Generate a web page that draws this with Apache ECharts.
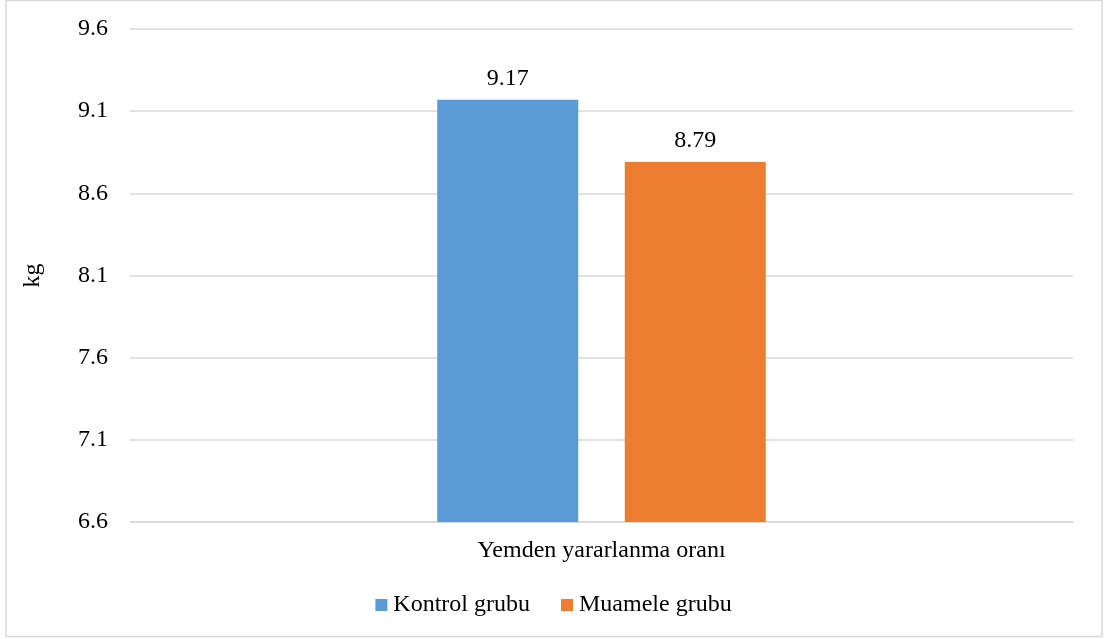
<!DOCTYPE html>
<html>
<head>
<meta charset="utf-8">
<script src="https://cdn.jsdelivr.net/npm/echarts@6/dist/echarts.min.js"></script>
<style>
  html, body { margin: 0; padding: 0; background: #fff; }
  #chart { width: 1107px; height: 639px; }
</style>
</head>
<body>
<div id="chart"></div>
<script>
// Feed conversion ratio, control vs. treatment group
const categories = ['Yemden yararlanma oranı'];
const seriesNames = ['Kontrol grubu', 'Muamele grubu'];
const kontrolValues = [9.17];
const muameleValues = [8.79];
const yTicks = [6.6, 7.1, 7.6, 8.1, 8.6, 9.1, 9.6];

const FONT = '"Liberation Serif", "Times New Roman", serif';
const FS = 24;
const chart = echarts.init(document.getElementById('chart'));

chart.setOption({
  animation: false,
  textStyle: { fontFamily: FONT },
  graphic: [{
    type: 'rect',
    shape: { x: 6, y: 0.5, width: 1096, height: 636 },
    style: { fill: 'none', stroke: '#d9d9d9', lineWidth: 1.5 },
    silent: true,
    z: -1
  }],
  grid: { left: 130, right: 34, top: 29, bottom: 117 },
  legend: {
    top: 588,
    left: 'center',
    itemWidth: 12,
    itemHeight: 12,
    itemGap: 31,
    icon: 'rect',
    textStyle: { fontFamily: FONT, fontSize: FS, color: '#000', padding: [0, 0, 0, 1] },
    data: seriesNames
  },
  xAxis: {
    type: 'category',
    data: categories,
    axisLine: { show: true, lineStyle: { color: '#d9d9d9', width: 1.5 } },
    axisTick: { show: false },
    axisLabel: { show: true, margin: 17, fontFamily: FONT, fontSize: FS, color: '#000' }
  },
  yAxis: {
    type: 'value',
    min: yTicks[0],
    max: yTicks[yTicks.length - 1],
    interval: 0.5,
    name: 'kg',
    nameLocation: 'middle',
    nameGap: 85,
    nameRotate: 90,
    nameTextStyle: { fontFamily: FONT, fontSize: FS, color: '#000' },
    axisLine: { show: false },
    axisTick: { show: false },
    splitLine: { lineStyle: { color: '#d9d9d9', width: 1.5 } },
    axisLabel: {
      margin: 22,
      fontFamily: FONT,
      fontSize: FS,
      color: '#000',
      formatter: v => v.toFixed(1)
    }
  },
  series: [
    {
      name: seriesNames[0],
      type: 'bar',
      data: kontrolValues,
      barWidth: 141,
      barGap: '33%',
      itemStyle: { color: '#5B9BD5' },
      label: {
        show: true, position: 'top', distance: 9,
        fontFamily: FONT, fontSize: FS, color: '#000',
        formatter: p => p.value.toFixed(2)
      }
    },
    {
      name: seriesNames[1],
      type: 'bar',
      data: muameleValues,
      barWidth: 141,
      barGap: '33%',
      itemStyle: { color: '#ED7D31' },
      label: {
        show: true, position: 'top', distance: 9,
        fontFamily: FONT, fontSize: FS, color: '#000',
        formatter: p => p.value.toFixed(2)
      }
    }
  ]
});
</script>
</body>
</html>
